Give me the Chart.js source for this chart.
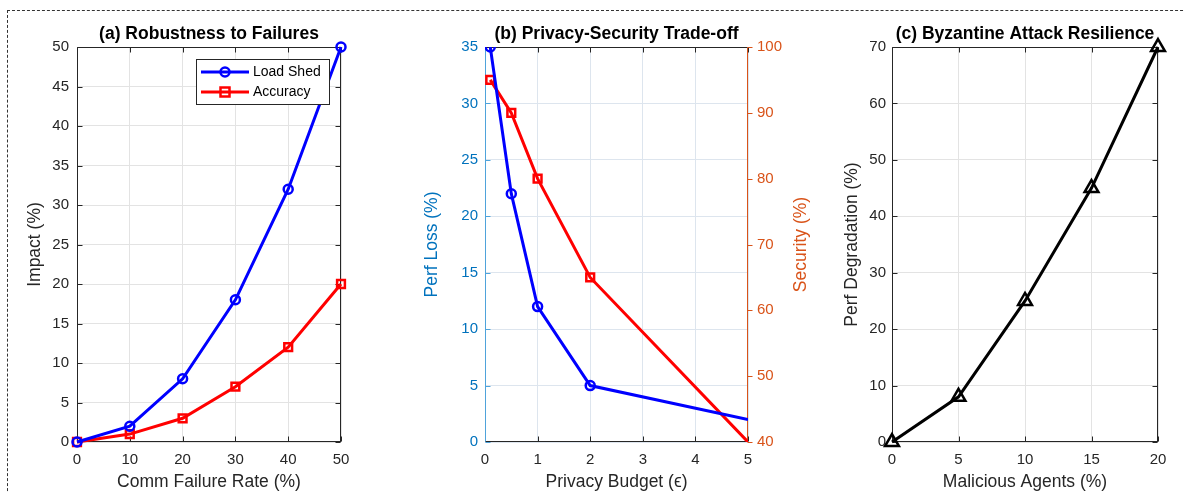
<!DOCTYPE html>
<html>
<head>
<meta charset="utf-8">
<script src="https://cdn.jsdelivr.net/npm/chart.js@4.4.0/dist/chart.umd.min.js"></script>
<style>
  html, body { margin: 0; padding: 0; background: #fff; }
  #wrap { position: relative; width: 1185px; height: 493px; overflow: hidden; }
  #frame { position: absolute; left: 7px; top: 10px; width: 1200px; height: 500px;
           border-left: 1px dashed #333; border-top: 1px dashed #333; }
  canvas { position: absolute; top: 0; }
</style>
</head>
<body>
<div id="wrap">
  <div id="frame"></div>
  <canvas id="chartA" width="400" height="493" style="left:0"></canvas>
  <canvas id="chartB" width="430" height="493" style="left:400px"></canvas>
  <canvas id="chartC" width="355" height="493" style="left:830px"></canvas>
</div>
<script>
// (a) robustness to failures
const failureRate = [0, 10, 20, 30, 40, 50];
const loadShed = [0, 2, 8, 18, 32, 50];
const accuracyImpact = [0, 1, 3, 7, 12, 20];

// (b) privacy / security trade-off
const privacyBudget = [0.1, 0.5, 1, 2, 5];
const perfLoss = [35, 22, 12, 5, 2];
const security = [95, 90, 80, 65, 40];

// (c) byzantine attack resilience
const maliciousAgents = [0, 5, 10, 15, 20];
const perfDegradation = [0, 8, 25, 45, 70];

const FONT = "'Liberation Sans', Arial, Helvetica, sans-serif";
const TXT = '#262626';
const BLUE_AX = '#0072BD';
const ORANGE_AX = '#D95319';
const TICK_SIZE = 15;
const LABEL_SIZE = 17.5;

Chart.defaults.font.family = FONT;
Chart.defaults.animation = false;

const pts = (xs, ys) => xs.map((x, i) => ({ x: x, y: ys[i] }));

// panel title centred on the axes + optional extra rotated axis title
const panelText = {
    id: 'panelText',
    afterDraw(chart, args, opts) {
        const { ctx, chartArea: a } = chart;
        ctx.save();
        ctx.fillStyle = '#000';
        ctx.font = 'bold ' + LABEL_SIZE + 'px ' + FONT;
        ctx.textAlign = 'center';
        ctx.textBaseline = 'middle';
        ctx.fillText(opts.title, (a.left + a.right) / 2, 34);
        if (opts.rightTitle) {
            ctx.translate(opts.rightTitleX, (a.top + a.bottom) / 2);
            ctx.rotate(-Math.PI / 2);
            ctx.font = LABEL_SIZE + 'px ' + FONT;
            ctx.fillStyle = opts.rightTitleColor;
            ctx.fillText(opts.rightTitle, 0, 0);
        }
        ctx.restore();
    }
};

// MATLAB-like box with ticks
const axisBox = {
    id: 'axisBox',
    beforeDatasetsDraw(chart, args, opts) {
        const { ctx, chartArea: a } = chart;
        const L = 5;
        const l = Math.round(a.left) + 0.5, r = Math.round(a.right) - 0.5;
        const t = Math.round(a.top) + 0.5, b = Math.round(a.bottom) - 0.5;
        ctx.save();
        ctx.lineWidth = 1;
        const seg = (x1, y1, x2, y2, c) => {
            ctx.strokeStyle = c;
            ctx.beginPath(); ctx.moveTo(x1, y1); ctx.lineTo(x2, y2); ctx.stroke();
        };
        const xs = chart.scales.x;
        xs.ticks.forEach(tk => {
            const px = Math.round(xs.getPixelForValue(tk.value)) + 0.5;
            seg(px, b, px, b - L, opts.bottom);
            seg(px, t, px, t + L, opts.top);
        });
        const ys = chart.scales.y;
        ys.ticks.forEach(tk => {
            const py = Math.round(ys.getPixelForValue(tk.value)) + 0.5;
            seg(l, py, l + L, py, opts.left);
            if (!chart.scales.y1) seg(r, py, r - L, py, opts.right);
        });
        if (chart.scales.y1) {
            const y1 = chart.scales.y1;
            y1.ticks.forEach(tk => {
                const py = Math.round(y1.getPixelForValue(tk.value)) + 0.5;
                seg(r, py, r + L, py, opts.right);
            });
        }
        seg(l, t, r, t, opts.top);
        seg(l, b, r + 0.5, b, opts.bottom);
        seg(l, t, l, b, opts.left);
        seg(r, t, r, b, opts.right);
        ctx.restore();
    }
};

// legend box inside panel (a)
const boxLegend = {
    id: 'boxLegend',
    afterDraw(chart, args, opts) {
        const { ctx } = chart;
        const bx = opts.x, by = opts.y, bw = opts.w, bh = opts.h;
        ctx.save();
        ctx.fillStyle = '#fff';
        ctx.fillRect(bx, by, bw, bh);
        ctx.strokeStyle = TXT;
        ctx.lineWidth = 1;
        ctx.strokeRect(bx + 0.5, by + 0.5, bw, bh);
        chart.data.datasets.forEach((ds, i) => {
            const cy = by + 13 + i * 20;
            ctx.strokeStyle = ds.borderColor;
            ctx.lineWidth = 3;
            ctx.beginPath(); ctx.moveTo(bx + 5, cy); ctx.lineTo(bx + 53, cy); ctx.stroke();
            ctx.lineWidth = 2.5;
            const mx = bx + 29;
            ctx.beginPath();
            if (ds.pointStyle === 'circle') ctx.arc(mx, cy, 4.5, 0, Math.PI * 2);
            else ctx.rect(mx - 4.5, cy - 4.5, 9, 9);
            ctx.stroke();
            ctx.fillStyle = '#000';
            ctx.font = '14px ' + FONT;
            ctx.textBaseline = 'middle';
            ctx.textAlign = 'left';
            ctx.fillText(ds.label, bx + 57, cy);
        });
        ctx.restore();
    }
};

function xScale(min, max, step, title, grid) {
    return {
        type: 'linear', min: min, max: max,
        ticks: { stepSize: step, color: TXT, font: { size: TICK_SIZE }, padding: 9, maxRotation: 0 },
        grid: { color: grid, drawTicks: false },
        border: { display: false },
        title: { display: true, text: title, color: TXT, font: { size: LABEL_SIZE }, padding: { top: 0, bottom: 0 } },
        afterFit(s) { s.height = 51; }
    };
}

function yScale(min, max, step, title, color, grid, width, titlePad, tickPad) {
    return {
        type: 'linear', position: 'left', min: min, max: max,
        ticks: { stepSize: step, color: color, font: { size: TICK_SIZE }, padding: tickPad },
        grid: { color: grid, drawTicks: false },
        border: { display: false },
        title: { display: true, text: title, color: color, font: { size: LABEL_SIZE }, padding: { top: titlePad, bottom: 0 } },
        afterFit(s) { s.width = width; }
    };
}

function lineSet(label, data, color, style, radius) {
    return {
        label: label, data: data,
        borderColor: color, backgroundColor: 'rgba(0,0,0,0)',
        borderWidth: 3, tension: 0, clip: false,
        pointStyle: style, pointRadius: radius,
        pointBorderColor: color, pointBackgroundColor: 'rgba(0,0,0,0)',
        pointBorderWidth: 2.5
    };
}

const GRID = '#e3e3e3';
const GRID_B = '#dde5ee';

// (a)
new Chart(document.getElementById('chartA'), {
    type: 'line',
    data: {
        datasets: [
            lineSet('Load Shed', pts(failureRate, loadShed), '#0000ff', 'circle', 4.5),
            lineSet('Accuracy', pts(failureRate, accuracyImpact), '#ff0000', 'rect', 5.5)
        ]
    },
    options: {
        responsive: false,
        layout: { padding: { top: 47, right: 59, left: 0, bottom: 0 } },
        scales: {
            x: xScale(0, 50, 10, 'Comm Failure Rate (%)', GRID),
            y: yScale(0, 50, 5, 'Impact (%)', TXT, GRID, 77, 24.5, 8)
        },
        plugins: {
            legend: { display: false },
            tooltip: { enabled: false },
            panelText: { title: '(a) Robustness to Failures' },
            axisBox: { top: TXT, bottom: TXT, left: TXT, right: TXT },
            boxLegend: { x: 196, y: 59, w: 133, h: 45 }
        }
    },
    plugins: [axisBox, panelText, boxLegend]
});

// (b)
const perfSet = lineSet('Perf Loss', pts(privacyBudget, perfLoss), '#0000ff', 'circle', [4.5, 4.5, 4.5, 4.5, 0]);
perfSet.yAxisID = 'y';
perfSet.clip = 0;
const secSet = lineSet('Security', pts(privacyBudget, security), '#ff0000', 'rect', [5.5, 5.5, 5.5, 5.5, 0]);
secSet.yAxisID = 'y1';
secSet.clip = 0;

const yRight = yScale(40, 100, 10, '', ORANGE_AX, GRID_B, 82, 0, 9);
yRight.position = 'right';
yRight.title = { display: false };
yRight.grid = { drawOnChartArea: false, drawTicks: false };

new Chart(document.getElementById('chartB'), {
    type: 'line',
    data: { datasets: [perfSet, secSet] },
    options: {
        responsive: false,
        layout: { padding: { top: 47, right: 0, left: 0, bottom: 0 } },
        scales: {
            x: xScale(0, 5, 1, 'Privacy Budget (\u03F5)', GRID_B),
            y: yScale(0, 35, 5, 'Perf Loss (%)', BLUE_AX, GRID_B, 85, 21.5, 7),
            y1: yRight
        },
        plugins: {
            legend: { display: false },
            tooltip: { enabled: false },
            panelText: { title: '(b) Privacy-Security Trade-off', rightTitle: 'Security (%)', rightTitleX: 401, rightTitleColor: ORANGE_AX },
            axisBox: { top: TXT, bottom: TXT, left: '#4fa3db', right: ORANGE_AX }
        }
    },
    plugins: [axisBox, panelText]
});

// (c)
new Chart(document.getElementById('chartC'), {
    type: 'line',
    data: {
        datasets: [
            lineSet('Perf Degradation', pts(maliciousAgents, perfDegradation), '#000000', 'triangle', 8)
        ]
    },
    options: {
        responsive: false,
        layout: { padding: { top: 47, right: 27, left: 0, bottom: 0 } },
        scales: {
            x: xScale(0, 20, 5, 'Malicious Agents (%)', GRID),
            y: yScale(0, 70, 10, 'Perf Degradation (%)', TXT, GRID, 62, 11.5, 6)
        },
        plugins: {
            legend: { display: false },
            tooltip: { enabled: false },
            panelText: { title: '(c) Byzantine Attack Resilience' },
            axisBox: { top: TXT, bottom: TXT, left: TXT, right: TXT }
        }
    },
    plugins: [axisBox, panelText]
});
</script>
</body>
</html>
